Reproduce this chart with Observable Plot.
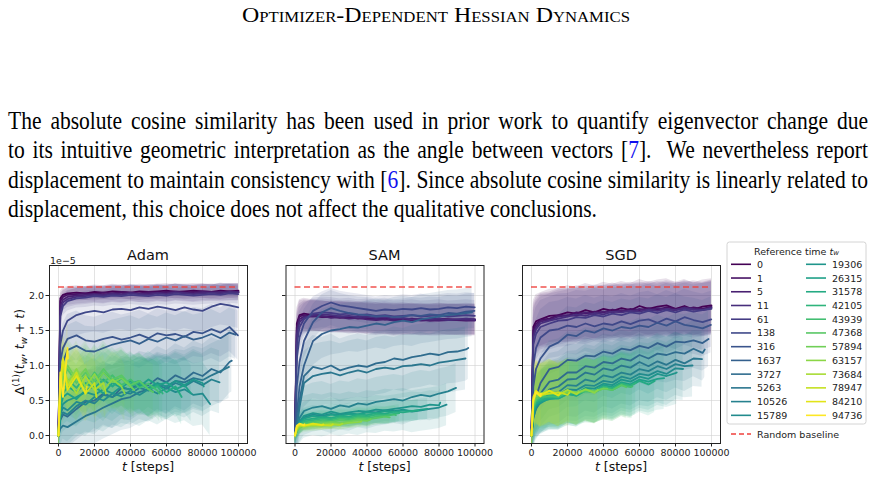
<!DOCTYPE html>
<html><head><meta charset="utf-8">
<script src="https://cdn.jsdelivr.net/npm/d3@7"></script>
<script src="https://cdn.jsdelivr.net/npm/@observablehq/plot@0.6"></script>
<style>
body{margin:0;background:#fff;}
#page{position:relative;width:876px;height:480px;overflow:hidden;background:#fff;}
.sup{font-size:0.7em;position:relative;top:-0.55em;}
.sub{font-size:0.7em;position:relative;top:0.3em;}
</style></head><body><div id="page"></div>
<script>
// ---------- data (values in units of 1e-5) ----------
const tw = [0,1,5,11,61,138,316,1637,3727,5263,10526,15789,19306,26315,31578,42105,43939,47368,57894,63157,73684,78947,84210,94736];
const T = [0,1000,2500,5000,10000,15000,20000,25000,30000,35000,40000,45000,50000,55000,60000,65000,70000,75000,80000,85000,90000,95000,100000];
const xTicks = [0,20000,40000,60000,80000,100000];
const yTicks = [0,0.5,1,1.5,2];
const baseline = 2.12;
const panels = ["Adam","SAM","SGD"];

const adam = [
[0,1.96,2.01,2.03,2.04,2.03,2.05,2.04,2.06,2.05,2.04,2.06,2.05,2.06,2.07,2.05,2.06,2.07,2.06,2.05,2.07,2.06,2.07],
[0,1.92,1.98,2.01,2.02,2.03,2.02,2.04,2.03,2.05,2.04,2.03,2.05,2.04,2.05,2.06,2.04,2.05,2.06,2.05,2.04,2.06,2.05],
[0,1.85,1.94,1.98,2.0,2.01,2.02,2.01,2.03,2.02,2.04,2.02,2.03,2.04,2.03,2.05,2.04,2.03,2.05,2.04,2.05,2.04,2.05],
[0,1.78,1.9,1.95,1.98,1.99,2.01,2.0,2.02,2.01,2.03,2.02,2.01,2.03,2.02,2.04,2.03,2.02,2.03,2.04,2.03,2.05,2.04],
[0,1.7,1.85,1.92,1.96,1.97,1.99,1.98,2.0,1.99,2.01,2.0,1.99,2.01,2.0,2.02,2.01,2.0,2.01,2.02,2.01,2.03,2.02],
[0,1.3,1.5,1.64,1.72,1.76,1.78,1.76,1.8,1.81,1.79,1.83,1.81,1.84,1.82,1.79,1.83,1.8,1.78,1.84,1.88,1.86,1.83],
[0,1.05,1.25,1.38,1.43,1.36,1.34,1.38,1.41,1.37,1.4,1.44,1.39,1.46,1.43,1.45,1.41,1.48,1.46,1.52,1.47,1.55,1.43],
[0,0.85,1.05,1.22,1.28,1.21,1.2,1.25,1.3,1.33,1.36,1.31,1.38,1.34,1.4,1.36,1.42,1.37,1.4,1.45,1.39,1.47,1.44],
[0,0.22,0.3,0.27,0.38,0.48,0.5,0.6,0.55,0.68,0.66,0.75,0.72,0.82,0.76,0.86,0.8,0.9,0.85,0.95,0.9,1.05,1.07],
[0,0.1,0.14,0.12,0.2,0.28,0.33,0.4,0.46,0.52,0.55,0.62,0.66,0.74,0.7,0.78,0.76,0.82,0.79,0.86,0.92,0.98],
[0,0.25,0.33,0.3,0.42,0.5,0.46,0.58,0.55,0.62,0.6,0.68,0.64,0.72,0.67,0.75,0.7,0.78,0.72,0.8,0.76],
[0,0.3,0.4,0.36,0.48,0.44,0.55,0.5,0.6,0.56,0.64,0.58,0.66,0.6,0.68,0.62,0.66,0.58,0.6,0.45],
[0,0.35,0.45,0.5,0.55,0.62,0.58,0.66,0.6,0.7,0.65,0.72,0.68,0.75,0.7,0.78,0.72,0.8,0.75,0.7],
[0,0.4,0.55,0.6,0.52,0.65,0.7,0.6,0.75,0.68,0.78,0.7,0.8,0.72,0.76,0.66,0.72,0.6],
[0,0.45,0.6,0.7,0.62,0.75,0.68,0.8,0.7,0.82,0.74,0.78,0.66,0.72,0.62,0.7,0.55],
[0,0.5,0.7,0.8,0.68,0.85,0.74,0.9,0.78,0.82,0.7,0.76,0.66,0.7,0.6],
[0,0.55,0.75,0.65,0.82,0.7,0.9,0.76,0.86,0.72,0.8,0.68,0.74,0.64,0.6],
[0,0.6,0.8,0.95,0.75,0.9,0.78,0.95,0.8,0.86,0.72,0.78,0.66,0.62],
[0,0.65,0.85,1.0,0.8,0.95,0.72,0.9,0.76,0.82,0.7,0.65],
[0,0.6,0.9,0.75,0.95,0.7,0.88,0.65,0.8,0.7,0.6],
[0,0.7,0.95,0.8,0.6,0.85,0.65,0.75,0.6],
[0,0.75,1.05,0.7,0.9,0.6,0.75,0.55],
[0,0.8,1.1,0.65,0.85,0.6,0.7],
[0,0.9,0.55,1.25,1.1]
];
const sam = [
[0,1.6,1.72,1.74,1.72,1.7,1.69,1.7,1.68,1.69,1.67,1.68,1.66,1.67,1.66,1.67,1.65,1.66,1.67,1.66,1.65,1.66,1.66],
[0,1.55,1.7,1.72,1.71,1.69,1.7,1.68,1.69,1.67,1.68,1.66,1.67,1.65,1.66,1.65,1.66,1.64,1.65,1.66,1.65,1.64,1.65],
[0,1.5,1.66,1.7,1.7,1.71,1.68,1.69,1.67,1.68,1.66,1.65,1.66,1.64,1.65,1.66,1.64,1.65,1.64,1.65,1.66,1.65,1.64],
[0,1.45,1.62,1.68,1.72,1.73,1.72,1.7,1.71,1.69,1.7,1.68,1.69,1.67,1.68,1.66,1.67,1.66,1.67,1.65,1.66,1.67,1.66],
[0,1.3,1.55,1.66,1.74,1.76,1.75,1.73,1.74,1.72,1.73,1.71,1.72,1.7,1.71,1.72,1.7,1.71,1.72,1.7,1.71,1.72,1.71],
[0,1.1,1.4,1.6,1.78,1.85,1.9,1.86,1.84,1.82,1.8,1.78,1.8,1.79,1.81,1.8,1.82,1.8,1.81,1.83,1.82,1.84,1.83],
[0,0.7,1.05,1.35,1.62,1.76,1.82,1.78,1.75,1.73,1.72,1.7,1.71,1.69,1.7,1.72,1.71,1.73,1.72,1.75,1.74,1.77,1.78],
[0,0.3,0.7,1.0,1.35,1.45,1.5,1.52,1.55,1.54,1.57,1.6,1.58,1.62,1.64,1.62,1.66,1.68,1.7,1.72,1.73,1.75,1.76],
[0,0.15,0.5,0.85,0.98,0.95,1.0,0.93,0.97,1.0,0.98,1.03,1.05,1.1,1.08,1.12,1.14,1.17,1.15,1.19,1.2,1.23,1.25],
[0,0.12,0.4,0.75,0.85,0.88,0.9,0.86,0.9,0.93,0.9,0.95,0.97,0.95,0.99,1.0,1.02,1.0,1.04,1.06,1.08,1.1],
[0,0.08,0.25,0.35,0.4,0.42,0.38,0.43,0.41,0.46,0.44,0.48,0.5,0.52,0.5,0.55,0.58,0.56,0.6,0.63,0.68],
[0,0.06,0.18,0.26,0.3,0.28,0.31,0.29,0.32,0.3,0.34,0.33,0.36,0.35,0.37,0.34,0.36,0.38,0.4,0.44],
[0,0.08,0.2,0.28,0.32,0.3,0.34,0.31,0.33,0.35,0.34,0.37,0.36,0.38,0.4,0.42,0.41,0.44,0.43,0.47],
[0,0.1,0.18,0.24,0.28,0.26,0.3,0.28,0.31,0.3,0.33,0.32,0.35,0.34,0.36,0.35,0.37,0.38],
[0,0.08,0.16,0.22,0.24,0.26,0.25,0.28,0.27,0.3,0.29,0.32,0.31,0.34,0.33,0.35,0.36],
[0,0.08,0.15,0.2,0.22,0.24,0.23,0.26,0.25,0.28,0.27,0.3,0.29,0.31,0.32],
[0,0.07,0.14,0.18,0.2,0.22,0.21,0.24,0.23,0.26,0.25,0.27,0.28,0.3,0.29],
[0,0.06,0.12,0.16,0.18,0.2,0.19,0.22,0.21,0.24,0.23,0.25,0.27,0.26],
[0,0.06,0.11,0.14,0.16,0.17,0.19,0.18,0.2,0.22,0.21,0.23],
[0,0.08,0.12,0.15,0.14,0.16,0.17,0.16,0.18,0.19,0.2],
[0,0.1,0.14,0.13,0.15,0.14,0.16,0.15,0.17],
[0,0.12,0.15,0.14,0.16,0.15,0.14,0.16],
[0,0.12,0.16,0.14,0.17,0.15,0.16],
[0,0.14,0.17,0.15,0.16]
];
const sgd = [
[0,1.55,1.63,1.66,1.71,1.72,1.76,1.74,1.79,1.76,1.81,1.78,1.82,1.79,1.85,1.81,1.84,1.86,1.81,1.85,1.8,1.84,1.86],
[0,1.5,1.59,1.65,1.67,1.72,1.71,1.76,1.74,1.77,1.76,1.8,1.77,1.81,1.79,1.82,1.8,1.83,1.81,1.8,1.83,1.81,1.84],
[0,1.45,1.55,1.63,1.65,1.7,1.72,1.71,1.76,1.73,1.77,1.76,1.79,1.77,1.81,1.78,1.82,1.8,1.79,1.83,1.81,1.8,1.83],
[0,1.4,1.52,1.6,1.64,1.67,1.7,1.73,1.71,1.75,1.73,1.77,1.76,1.78,1.77,1.8,1.78,1.81,1.79,1.82,1.8,1.79,1.82],
[0,1.3,1.45,1.55,1.6,1.64,1.65,1.69,1.68,1.72,1.7,1.74,1.72,1.76,1.74,1.78,1.75,1.79,1.76,1.8,1.77,1.79,1.81],
[0,1.0,1.25,1.4,1.5,1.52,1.57,1.55,1.6,1.56,1.6,1.58,1.63,1.59,1.64,1.66,1.61,1.67,1.63,1.69,1.65,1.62,1.66],
[0,0.7,0.95,1.1,1.27,1.33,1.44,1.42,1.5,1.47,1.53,1.5,1.55,1.53,1.57,1.55,1.61,1.57,1.63,1.58,1.56,1.53,1.58],
[0,0.35,0.55,0.75,0.95,0.98,1.08,1.07,1.14,1.13,1.2,1.17,1.24,1.22,1.28,1.25,1.32,1.27,1.34,1.33,1.36,1.32,1.38],
[0,0.3,0.45,0.6,0.77,0.8,0.9,0.9,0.99,0.97,1.05,1.03,1.1,1.07,1.15,1.1,1.17,1.15,1.19,1.17,1.24,1.18,1.23],
[0,0.25,0.4,0.52,0.66,0.7,0.8,0.81,0.9,0.87,0.96,0.93,1.0,0.97,1.05,0.99,1.06,1.01,1.08,1.03,1.1,1.09],
[0,0.25,0.38,0.48,0.6,0.62,0.72,0.71,0.8,0.77,0.86,0.83,0.9,0.87,0.95,0.92,0.99,0.95,1.02,0.99,1.0],
[0,0.28,0.4,0.48,0.57,0.58,0.66,0.65,0.72,0.71,0.78,0.76,0.84,0.81,0.88,0.86,0.92,0.88,0.96,0.95],
[0,0.3,0.42,0.46,0.54,0.54,0.62,0.6,0.68,0.67,0.74,0.72,0.8,0.77,0.84,0.81,0.88,0.85,0.89,0.9],
[0,0.32,0.44,0.48,0.52,0.53,0.6,0.57,0.66,0.63,0.72,0.69,0.76,0.73,0.8,0.77,0.81,0.82],
[0,0.35,0.45,0.5,0.54,0.53,0.59,0.57,0.64,0.62,0.69,0.67,0.74,0.71,0.78,0.73,0.78],
[0,0.38,0.48,0.52,0.57,0.56,0.62,0.6,0.66,0.63,0.7,0.67,0.74,0.71,0.75],
[0,0.4,0.5,0.55,0.56,0.55,0.62,0.6,0.63,0.62,0.68,0.65,0.72,0.69,0.7],
[0,0.42,0.52,0.56,0.6,0.58,0.64,0.59,0.66,0.63,0.67,0.65,0.72,0.69],
[0,0.45,0.55,0.58,0.62,0.6,0.62,0.62,0.65,0.63,0.67,0.67],
[0,0.48,0.58,0.6,0.64,0.58,0.65,0.6,0.66,0.61,0.65],
[0,0.5,0.6,0.56,0.64,0.58,0.65,0.59,0.62],
[0,0.52,0.62,0.58,0.6,0.62,0.58,0.61],
[0,0.55,0.64,0.58,0.64,0.57,0.6],
[0,0.5,0.62,0.56,0.6]
];
// spread (std) of each series, same units
const adamSd = [0.1,0.1,0.12,0.12,0.14,0.3,0.35,0.35,0.45,0.45,0.45,0.45,0.4,0.4,0.4,0.4,0.4,0.4,0.4,0.4,0.4,0.4,0.4,0.4];
const samSd  = [0.22,0.22,0.22,0.22,0.22,0.2,0.25,0.35,0.45,0.45,0.35,0.3,0.2,0.15,0.15,0.12,0.12,0.1,0.1,0.08,0.06,0.06,0.05,0.05];
const sgdSd  = [0.38,0.38,0.38,0.38,0.38,0.4,0.4,0.4,0.4,0.4,0.45,0.45,0.45,0.45,0.45,0.45,0.45,0.45,0.45,0.45,0.45,0.45,0.45,0.45];

// ---------- build ----------
const page = document.getElementById("page");
const keys = tw.map(String);
const colors = tw.map((_, i) => d3.interpolateViridis(i / (tw.length - 1)));

function addDiv(html, css) {
  const d = document.createElement("div");
  d.innerHTML = html;
  Object.assign(d.style, {position: "absolute", whiteSpace: "pre"}, css);
  page.appendChild(d);
  return d;
}

// running header
const hdr = addDiv("Optimizer-Dependent Hessian Dynamics", {left: "0px", top: "0px", fontFamily: "'Liberation Serif', serif", fontSize: "20px", lineHeight: "1", fontVariant: "small-caps", transformOrigin: "0 0", color: "#000"});
const hw = hdr.getBoundingClientRect().width;
hdr.style.transform = `translate(242px, 5px) scaleX(${388 / hw})`;

// paragraph
const lines = [
  "The absolute cosine similarity has been used in prior work to quantify eigenvector change due",
  "to its intuitive geometric interpretation as the angle between vectors [<span style=\"color:#1010ee\">7</span>].  We nevertheless report",
  "displacement to maintain consistency with [<span style=\"color:#1010ee\">6</span>]. Since absolute cosine similarity is linearly related to",
  "displacement, this choice does not affect the qualitative conclusions."
];
const pdivs = lines.map((h, i) => addDiv(h, {left: "0px", top: (107.5 + 29.5 * i) + "px", fontFamily: "'Liberation Serif', serif", fontSize: "25px", lineHeight: "1", transformOrigin: "0 0", color: "#000"}));
const lastW = pdivs[3].getBoundingClientRect().width;
const ps = 589 / lastW;
pdivs.forEach((d, i) => {
  if (i < 3) {
    const w = d.getBoundingClientRect().width;
    const n = (d.textContent.match(/ /g) || []).length;
    d.style.wordSpacing = ((860 / ps - w) / n) + "px";
  }
  d.style.transform = `translate(8px,0) scaleX(${ps})`;
});

// panels
const panelData = [adam, sam, sgd];
const panelSd = [adamSd, samSd, sgdSd];
const frameLeft = [49, 285.5, 522];
panelData.forEach((vals, p) => {
  const rows = [];
  vals.forEach((arr, k) => {
    const tmax = 100000 - tw[k];
    arr.forEach((v, i) => rows.push({k: keys[k], t: Math.min(T[i], tmax), v, lo: v - panelSd[p][k], hi: v + panelSd[p][k]}));
  });
  const svgLeft = Math.floor(frameLeft[p]) - (p === 0 ? 49 : 30);
  const ml = frameLeft[p] - svgLeft;
  const chart = Plot.plot({
    width: ml + 198 + 15, height: 240,
    marginLeft: ml, marginRight: 15, marginTop: 25, marginBottom: 37,
    x: {domain: [-5000, 105000]},
    y: {domain: [-0.114, 2.4286]},
    color: {domain: keys, range: colors},
    style: {fontFamily: "'DejaVu Sans', sans-serif", fontSize: "9.5px", color: "#222", background: "transparent", overflow: "visible"},
    marks: [
      Plot.gridX(xTicks, {stroke: "#d0d0d0", strokeOpacity: 0.6}),
      Plot.gridY(yTicks, {stroke: "#d0d0d0", strokeOpacity: 0.6}),
      Plot.areaY(rows, {x: "t", y1: "lo", y2: "hi", z: "k", fill: "k", fillOpacity: 0.12, clip: true}),
      Plot.line(rows, {x: "t", y: "v", z: "k", stroke: "k", strokeWidth: 1.8, clip: true}),
      Plot.ruleY([baseline], {x1: 0, x2: 100000, stroke: "#f0403c", strokeOpacity: 0.9, strokeWidth: 1.5, strokeDasharray: "6,3.5"}),
      Plot.frame({stroke: "#222"}),
      Plot.axisX(xTicks, {tickSize: 3.5, tickPadding: 2, label: null, tickFormat: d => String(d), fontSize: 9.5}),
      Plot.axisY(yTicks, {tickSize: 3.5, tickPadding: 2, label: null, tickFormat: p === 0 ? d3.format(".1f") : () => "", fontSize: 9.5})
    ]
  });
  chart.style.position = "absolute";
  chart.style.left = svgLeft + "px";
  chart.style.top = "240px";
  page.appendChild(chart);
  const cx = frameLeft[p] + 99;
  addDiv(panels[p], {left: cx + "px", top: "254.5px", transform: "translate(-50%,-50%)", fontFamily: "'DejaVu Sans', sans-serif", fontSize: "14.5px", color: "#111"});
  addDiv("<i>t</i> [steps]", {left: cx + "px", top: "466px", transform: "translate(-50%,-50%)", fontFamily: "'DejaVu Sans', sans-serif", fontSize: "12.5px", color: "#111"});
});
addDiv("1e\u22125", {left: "50px", top: "259.5px", transform: "translate(0,-50%)", fontFamily: "'DejaVu Sans', sans-serif", fontSize: "9.5px", color: "#222"});
addDiv("\u0394<span class=\"sup\">(1)</span>(<i>t</i><span class=\"sub\"><i>w</i></span>, <i>t</i><span class=\"sub\"><i>w</i></span> + <i>t</i>)",
  {left: "19px", top: "352px", transform: "translate(-50%,-50%) rotate(-90deg)", fontFamily: "'DejaVu Sans', sans-serif", fontSize: "12.5px", color: "#111"});

// legend
const lg = d3.select(page).append("svg").attr("width", 876).attr("height", 480)
  .style("position", "absolute").style("left", "0px").style("top", "0px")
  .style("font-family", "'DejaVu Sans', sans-serif").style("font-size", "9.5px");
lg.append("rect").attr("x", 727).attr("y", 242).attr("width", 139).attr("height", 182).attr("rx", 2.5)
  .attr("fill", "#fff").attr("fill-opacity", 0.8).attr("stroke", "#d4d4d4");
lg.append("text").attr("x", 796.5).attr("y", 251).attr("text-anchor", "middle").attr("dominant-baseline", "central").attr("fill", "#222")
  .html("Reference time <tspan font-style=\"italic\">t</tspan><tspan font-style=\"italic\" font-size=\"7px\" dy=\"2\">w</tspan>");
keys.forEach((k, i) => {
  const col = i < 12 ? 0 : 1, r = i % 12;
  const y = 264.3 + 13.73 * r;
  const x0 = col ? 806 : 731;
  lg.append("line").attr("x1", x0).attr("x2", x0 + 20).attr("y1", y).attr("y2", y).attr("stroke", colors[i]).attr("stroke-width", 1.6);
  lg.append("text").attr("x", col ? 832 : 757).attr("y", y).attr("dominant-baseline", "central").attr("fill", "#222").text(k);
});
lg.append("line").attr("x1", 731).attr("x2", 751).attr("y1", 434).attr("y2", 434).attr("stroke", "#f0403c").attr("stroke-width", 1.5).attr("stroke-dasharray", "5,3");
lg.append("text").attr("x", 757).attr("y", 434).attr("dominant-baseline", "central").attr("fill", "#222").text("Random baseline");
</script></body></html>
